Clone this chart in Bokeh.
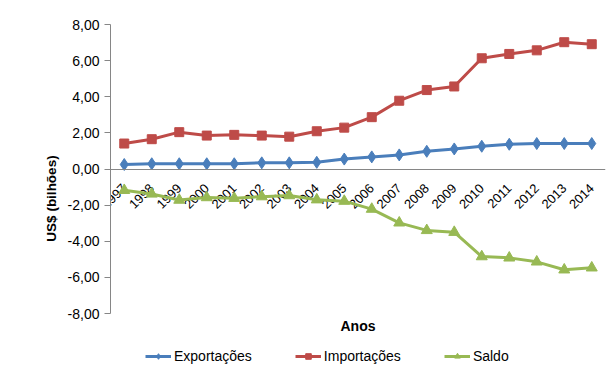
from bokeh.plotting import figure
from bokeh.models import (FactorRange, Range1d, CustomJSTickFormatter, FixedTicker,
                          Legend, LegendItem, Label, Title)
from bokeh.core.properties import value
from bokeh.embed import file_html
from bokeh.resources import INLINE

years = [str(y) for y in range(1997, 2015)]
exportacoes = [0.25, 0.29, 0.29, 0.29, 0.29, 0.34, 0.34, 0.37, 0.55, 0.67, 0.78, 0.98,
               1.11, 1.26, 1.37, 1.41, 1.41, 1.41]
importacoes = [1.41, 1.65, 2.04, 1.85, 1.89, 1.85, 1.79, 2.09, 2.29, 2.87, 3.78, 4.37,
               4.57, 6.13, 6.37, 6.57, 7.02, 6.91]
saldo = [-1.18, -1.38, -1.72, -1.58, -1.62, -1.53, -1.47, -1.70, -1.78, -2.22, -2.98, -3.40,
         -3.50, -4.85, -4.92, -5.14, -5.58, -5.47]
y_ticks = [-8, -6, -4, -2, 0, 2, 4, 6, 8]
y_min, y_max = -8, 8

FONT = "Liberation Sans"
BLUE = "#4A7EBB"
RED = "#BE4B48"
GREEN = "#98B954"
AXIS = "#868686"

# frame reaches the bottom of the canvas so that legend & axis title live inside it
PX_PER_UNIT = 289 / 16.0
extra = 59 / PX_PER_UNIT

p = figure(x_range=FactorRange(*years), y_range=Range1d(y_min - extra, y_max),
           frame_width=495, frame_height=348,
           min_border_left=110, min_border_top=24, min_border_right=11, min_border_bottom=0,
           output_backend="svg", toolbar_location=None)
p.outline_line_color = None
p.xgrid.grid_line_color = None
p.ygrid.grid_line_color = None

# y axis
p.yaxis.ticker = FixedTicker(ticks=y_ticks)
p.yaxis.bounds = (y_min, y_max)
p.yaxis.formatter = CustomJSTickFormatter(code="return tick.toFixed(2).replace('.', ',')")
p.yaxis.axis_line_color = AXIS
p.yaxis.major_tick_line_color = AXIS
p.yaxis.major_tick_in = 0
p.yaxis.major_tick_out = 6
p.yaxis.minor_tick_line_color = None
p.yaxis.major_label_text_font = FONT
p.yaxis.major_label_text_font_size = "14px"
p.yaxis.major_label_text_color = "#000000"

# y axis title (centred on the -8..8 span, not on the enlarged frame)
p.add_layout(Title(text="US$ (bilhões)", align="center", offset=60,
                   text_font=FONT, text_font_style="bold", text_font_size="13.5px",
                   text_color="#000000", standoff=12), "left")

# x axis line fixed at y = 0 (labels drawn as rotated text below)
xa = p.xaxis[0]
xa.fixed_location = 0
xa.axis_line_color = AXIS
xa.major_tick_line_color = None
xa.minor_tick_line_color = None
xa.major_tick_out = 0
xa.major_tick_in = 0
xa.major_label_standoff = 0
xa.major_label_text_font_size = "0px"
xa.major_label_text_color = None

p.text(x=years, y=[0] * len(years), text=years, angle=0.785,
       x_offset=0, y_offset=17, text_align="right", text_baseline="middle",
       text_font=value(FONT), text_font_size="13px", text_color="#000000")

# axis title "Anos"
p.add_layout(Label(x=len(years) / 2, y=y_min - 12 / PX_PER_UNIT, text="Anos",
                   text_align="center", text_baseline="middle",
                   text_font=FONT, text_font_style="bold", text_font_size="14px",
                   text_color="#000000"))

l1 = p.line(years, exportacoes, line_color=BLUE, line_width=3)
m1 = p.scatter(years, exportacoes, marker="diamond", size=12, color=BLUE)
l2 = p.line(years, importacoes, line_color=RED, line_width=3)
m2 = p.scatter(years, importacoes, marker="square", size=9, color=RED)
l3 = p.line(years, saldo, line_color=GREEN, line_width=3)
m3 = p.scatter(years, saldo, marker="triangle", size=11, color=GREEN)

legend = Legend(items=[LegendItem(label="Exportações", renderers=[l1, m1]),
                       LegendItem(label="Importações", renderers=[l2, m2]),
                       LegendItem(label="Saldo", renderers=[l3, m3])],
                orientation="horizontal", location=(35, 8),
                glyph_width=26, glyph_height=14, label_standoff=3, spacing=43,
                padding=0, margin=0, border_line_color=None, background_fill_alpha=0,
                label_text_font=FONT, label_text_font_size="14px", label_text_color="#000000")
p.add_layout(legend, "center")

open("out.html", "w").write(file_html(p, INLINE))
